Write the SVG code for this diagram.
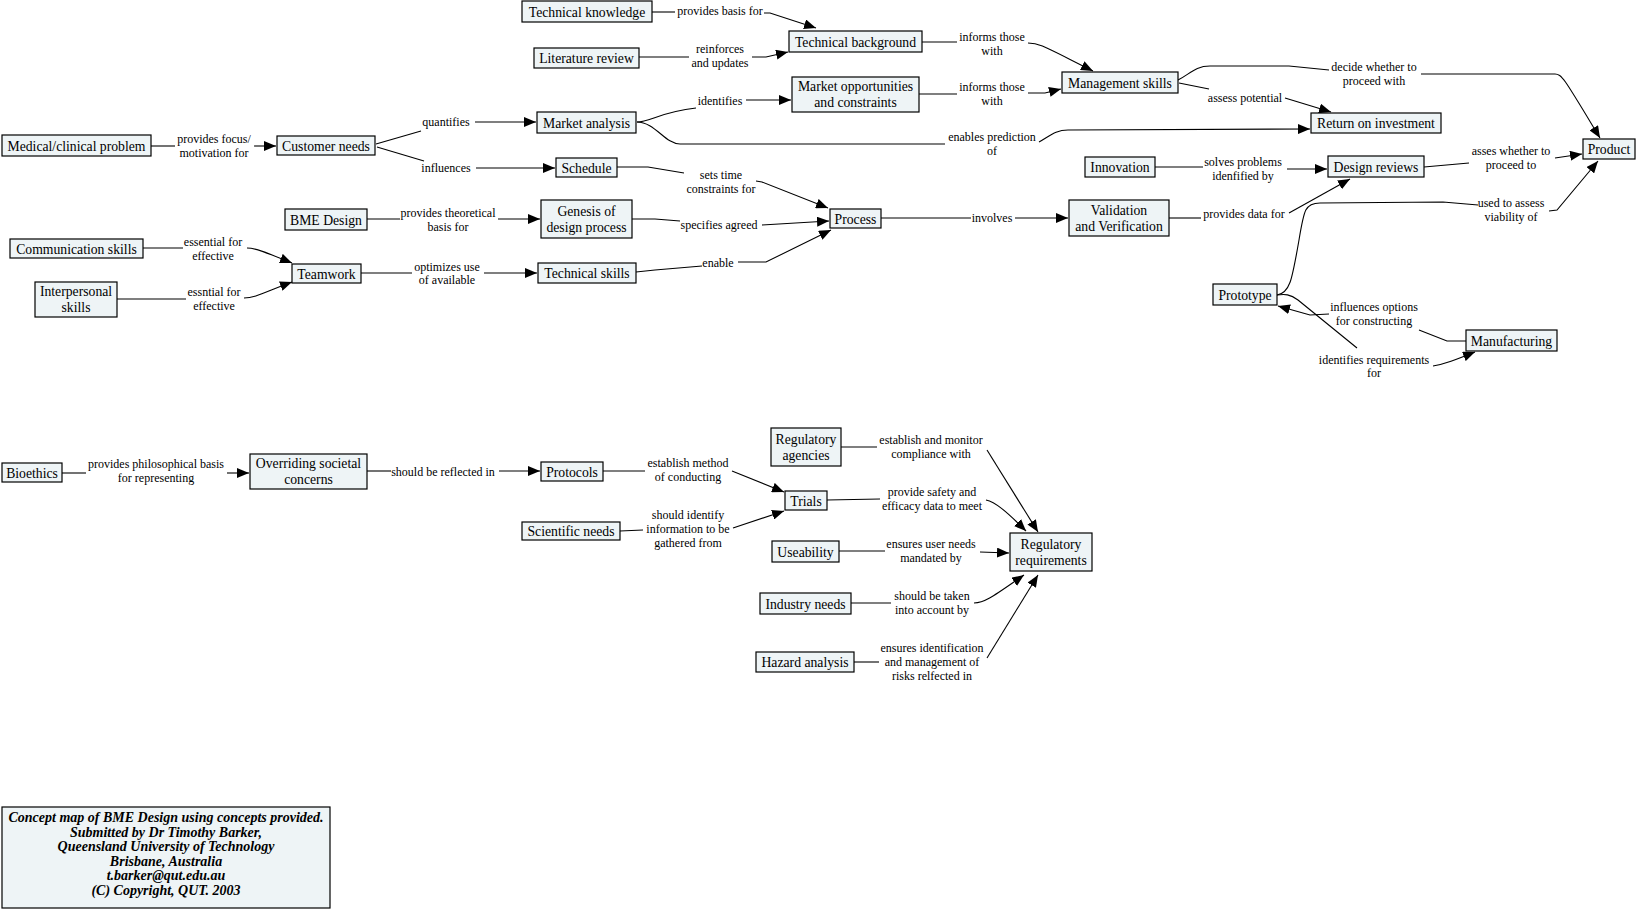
<svg xmlns="http://www.w3.org/2000/svg" width="1637" height="912" viewBox="0 0 1637 912">
<style>
.n rect{fill:#eef4f6;stroke:#000;stroke-width:1.2}
.n text{font-family:"Liberation Serif","Times New Roman",serif;font-size:13.7px;text-anchor:middle;fill:#000}
.c path{fill:none;stroke:#000;stroke-width:1.1}
.c path.a{marker-end:url(#ah)}
.c text{font-family:"Liberation Serif","Times New Roman",serif;font-size:12px;text-anchor:middle;fill:#000}
.t text{font-family:"Liberation Serif","Times New Roman",serif;font-size:14px;font-weight:bold;font-style:italic;text-anchor:middle}
</style>
<defs>
<marker id="ah" viewBox="0 0 12 10" refX="12" refY="5" markerWidth="12" markerHeight="10" markerUnits="userSpaceOnUse" orient="auto">
<path d="M0,0 L12,5 L0,10 z" fill="#000"/>
</marker>
</defs>
<rect width="1637" height="912" fill="#fff"/>
<g id="connectors" class="c">
<path d="M652,12 L675,12"/><text x="720" y="15">provides basis for</text><path class="a" d="M764,13 L770,13 L816,28"/>
<path d="M639,57 L689,57"/><text x="720" y="53">reinforces</text><text x="720" y="67">and updates</text><path class="a" d="M752,57 L766,57 L788,52"/>
<path d="M922,42 L957,42"/><text x="992" y="41">informs those</text><text x="992" y="55">with</text><path class="a" d="M1028,43 C1040,43 1045,47 1093,71"/>
<path d="M919,94 L957,94"/><text x="992" y="91">informs those</text><text x="992" y="105">with</text><path class="a" d="M1028,93 L1045,93 L1061,89"/>
<path d="M637,122 C650,122 660,112 696,108"/><text x="720" y="105">identifies</text><path class="a" d="M746,100 L791,100"/>
<path d="M637,122 C655,122 665,144 680,144 L945,144"/><text x="992" y="141">enables prediction</text><text x="992" y="155">of</text><path class="a" d="M1039,142 C1050,136 1055,130 1068,130 L1310,129"/>
<path d="M617,167 L648,167 L684,173"/><text x="721" y="179">sets time</text><text x="721" y="193">constraints for</text><path class="a" d="M756,181 L762,182 L828,208"/>
<path d="M632,219 L655,219 L680,221"/><text x="719" y="229">specifies agreed</text><path class="a" d="M762,225 L829,221"/>
<path d="M636,272 L655,270 L702,266"/><text x="718" y="267">enable</text><path class="a" d="M738,262 L766,262 L831,230"/>
<path d="M881,218 L971,218"/><text x="992" y="222">involves</text><path class="a" d="M1015,218 L1068,218"/>
<path d="M1178,80 C1190,74 1195,66 1210,66 L1289,66 L1329,70"/><text x="1374" y="71">decide whether to</text><text x="1374" y="85">proceed with</text><path class="a" d="M1421,74 L1555,74 C1562,74 1565,80 1600,138"/>
<path d="M1179,83 L1209,89"/><text x="1245" y="102">assess potential</text><path class="a" d="M1285,98 L1331,112"/>
<path d="M1155,167 L1203,167"/><text x="1243" y="166">solves problems</text><text x="1243" y="180">idenfified by</text><path class="a" d="M1287,169 L1327,169"/>
<path d="M1424,167 L1469,163"/><text x="1511" y="155">asses whether to</text><text x="1511" y="169">proceed to</text><path class="a" d="M1555,158 L1582,154"/>
<path d="M1169,218 L1201,218"/><text x="1244" y="218">provides data for</text><path class="a" d="M1289,213 L1350,179"/>
<path d="M1277,295 C1290,293 1292,280 1299,240 C1304,210 1305,203 1320,203 L1443,202 L1478,205"/><text x="1511" y="207">used to assess</text><text x="1511" y="221">viability of</text><path class="a" d="M1549,211 L1557,210 L1598,161"/>
<path d="M1466,341 L1447,341 L1419,330"/><text x="1374" y="311">influences options</text><text x="1374" y="325">for constructing</text><path class="a" d="M1329,314 L1310,315 L1278,306"/>
<path d="M1277,295 C1285,294 1290,294 1298,300 L1357,348"/><text x="1374" y="364">identifies requirements</text><text x="1374" y="377">for</text><path class="a" d="M1433,366 C1445,364 1455,360 1475,352"/>
<path d="M151,146 L175,146"/><text x="214" y="143">provides focus/</text><text x="214" y="157">motivation for</text><path class="a" d="M254,146 L276,146"/>
<path d="M376,144 L421,131"/><text x="446" y="126">quantifies</text><path class="a" d="M475,122 L536,122"/>
<path d="M377,147 L424,161"/><text x="446" y="172">influences</text><path class="a" d="M476,168 L555,168"/>
<path d="M367,219 L400,219"/><text x="448" y="217">provides theoretical</text><text x="448" y="231">basis for</text><path class="a" d="M498,219 L540,219"/>
<path d="M143,248 L183,248"/><text x="213" y="246">essential for</text><text x="213" y="260">effective</text><path class="a" d="M247,248 C255,248 265,252 292,263"/>
<path d="M117,299 L186,299"/><text x="214" y="296">essntial for</text><text x="214" y="310">effective</text><path class="a" d="M244,298 C255,298 265,292 292,282"/>
<path d="M361,273 L412,273"/><text x="447" y="271">optimizes use</text><text x="447" y="284">of available</text><path class="a" d="M484,273 L537,273"/>
<path d="M62,473 L86,473"/><text x="156" y="468">provides philosophical basis</text><text x="156" y="482">for representing</text><path class="a" d="M227,473 L249,473"/>
<path d="M367,471 L391,471"/><text x="443" y="476">should be reflected in</text><path class="a" d="M499,471 L540,471"/>
<path d="M603,471 L645,471"/><text x="688" y="467">establish method</text><text x="688" y="481">of conducting</text><path class="a" d="M732,471 L784,492"/>
<path d="M620,531 L643,530"/><text x="688" y="519">should identify</text><text x="688" y="533">information to be</text><text x="688" y="547">gathered from</text><path class="a" d="M733,528 L784,511"/>
<path d="M841,447 L877,447"/><text x="931" y="444">establish and monitor</text><text x="931" y="458">compliance with</text><path class="a" d="M987,450 L1038,532"/>
<path d="M827,500 L880,499"/><text x="932" y="496">provide safety and</text><text x="932" y="510">efficacy data to meet</text><path class="a" d="M986,500 C995,502 1005,510 1026,531"/>
<path d="M839,551 L885,551"/><text x="931" y="548">ensures user needs</text><text x="931" y="562">mandated by</text><path class="a" d="M980,552 L1009,553"/>
<path d="M851,603 L891,603"/><text x="932" y="600">should be taken</text><text x="932" y="614">into account by</text><path class="a" d="M974,603 C985,603 995,595 1024,575"/>
<path d="M854,662 L879,662"/><text x="932" y="652">ensures identification</text><text x="932" y="666">and management of</text><text x="932" y="680">risks relfected in</text><path class="a" d="M987,658 L1038,575"/>
</g>
<g id="technical-knowledge" class="n"><rect x="522" y="1" width="130" height="21"/><text x="587" y="16.5">Technical knowledge</text></g>
<g id="technical-background" class="n"><rect x="789" y="31" width="133" height="21"/><text x="855.5" y="46.5">Technical background</text></g>
<g id="literature-review" class="n"><rect x="534" y="48" width="105" height="20"/><text x="586.5" y="63">Literature review</text></g>
<g id="market-opportunities" class="n"><rect x="792" y="77" width="127" height="35"/><text x="855.5" y="91">Market opportunities</text><text x="855.5" y="107">and constraints</text></g>
<g id="market-analysis" class="n"><rect x="537" y="112" width="99" height="21"/><text x="586.5" y="127.5">Market analysis</text></g>
<g id="schedule" class="n"><rect x="556" y="158" width="61" height="19"/><text x="586.5" y="172.5">Schedule</text></g>
<g id="genesis" class="n"><rect x="541" y="200" width="91" height="38"/><text x="586.5" y="216">Genesis of</text><text x="586.5" y="232">design process</text></g>
<g id="technical-skills" class="n"><rect x="538" y="263" width="98" height="20"/><text x="587" y="278">Technical skills</text></g>
<g id="process" class="n"><rect x="830" y="209" width="51" height="19"/><text x="855.5" y="223.5">Process</text></g>
<g id="management-skills" class="n"><rect x="1062" y="72" width="116" height="21"/><text x="1120" y="87.5">Management skills</text></g>
<g id="return-on-investment" class="n"><rect x="1311" y="113" width="130" height="20"/><text x="1376" y="128">Return on investment</text></g>
<g id="innovation" class="n"><rect x="1085" y="157" width="70" height="20"/><text x="1120" y="172">Innovation</text></g>
<g id="design-reviews" class="n"><rect x="1328" y="156" width="96" height="21"/><text x="1376" y="171.5">Design reviews</text></g>
<g id="product" class="n"><rect x="1583" y="139" width="52" height="20"/><text x="1609" y="154">Product</text></g>
<g id="validation" class="n"><rect x="1069" y="200" width="100" height="36"/><text x="1119" y="215">Validation</text><text x="1119" y="231">and Verification</text></g>
<g id="prototype" class="n"><rect x="1213" y="284" width="64" height="21"/><text x="1245" y="299.5">Prototype</text></g>
<g id="manufacturing" class="n"><rect x="1466" y="330" width="91" height="21"/><text x="1511.5" y="345.5">Manufacturing</text></g>
<g id="medical-problem" class="n"><rect x="2" y="135" width="149" height="21"/><text x="76.5" y="150.5">Medical/clinical problem</text></g>
<g id="customer-needs" class="n"><rect x="277" y="136" width="98" height="19"/><text x="326" y="150.5">Customer needs</text></g>
<g id="bme-design" class="n"><rect x="285" y="209" width="82" height="21"/><text x="326" y="224.5">BME Design</text></g>
<g id="communication-skills" class="n"><rect x="10" y="239" width="133" height="19"/><text x="76.5" y="253.5">Communication skills</text></g>
<g id="teamwork" class="n"><rect x="292" y="264" width="69" height="19"/><text x="326.5" y="278.5">Teamwork</text></g>
<g id="interpersonal-skills" class="n"><rect x="35" y="282" width="82" height="35"/><text x="76" y="296">Interpersonal</text><text x="76" y="312">skills</text></g>
<g id="bioethics" class="n"><rect x="2" y="463" width="60" height="19"/><text x="32" y="477.5">Bioethics</text></g>
<g id="overriding-concerns" class="n"><rect x="250" y="454" width="117" height="35"/><text x="308.5" y="468">Overriding societal</text><text x="308.5" y="484">concerns</text></g>
<g id="protocols" class="n"><rect x="541" y="462" width="62" height="19"/><text x="572" y="476.5">Protocols</text></g>
<g id="scientific-needs" class="n"><rect x="522" y="522" width="98" height="18"/><text x="571" y="536">Scientific needs</text></g>
<g id="regulatory-agencies" class="n"><rect x="771" y="428" width="70" height="38"/><text x="806" y="444">Regulatory</text><text x="806" y="460">agencies</text></g>
<g id="trials" class="n"><rect x="785" y="491" width="42" height="19"/><text x="806" y="505.5">Trials</text></g>
<g id="useability" class="n"><rect x="772" y="541" width="67" height="21"/><text x="805.5" y="556.5">Useability</text></g>
<g id="industry-needs" class="n"><rect x="760" y="593" width="91" height="21"/><text x="805.5" y="608.5">Industry needs</text></g>
<g id="hazard-analysis" class="n"><rect x="756" y="652" width="98" height="20"/><text x="805" y="667">Hazard analysis</text></g>
<g id="regulatory-requirements" class="n"><rect x="1010" y="533" width="82" height="38"/><text x="1051" y="549">Regulatory</text><text x="1051" y="565">requirements</text></g>
<g id="title" class="n t"><rect x="2" y="807" width="328" height="101"/>
<text x="166" y="822">Concept map of BME Design using concepts provided.</text>
<text x="166" y="836.5">Submitted by Dr Timothy Barker,</text>
<text x="166" y="851">Queensland University of Technology</text>
<text x="166" y="865.5">Brisbane, Australia</text>
<text x="166" y="880">t.barker@qut.edu.au</text>
<text x="166" y="894.5">(C) Copyright, QUT. 2003</text>
</g>
</svg>
